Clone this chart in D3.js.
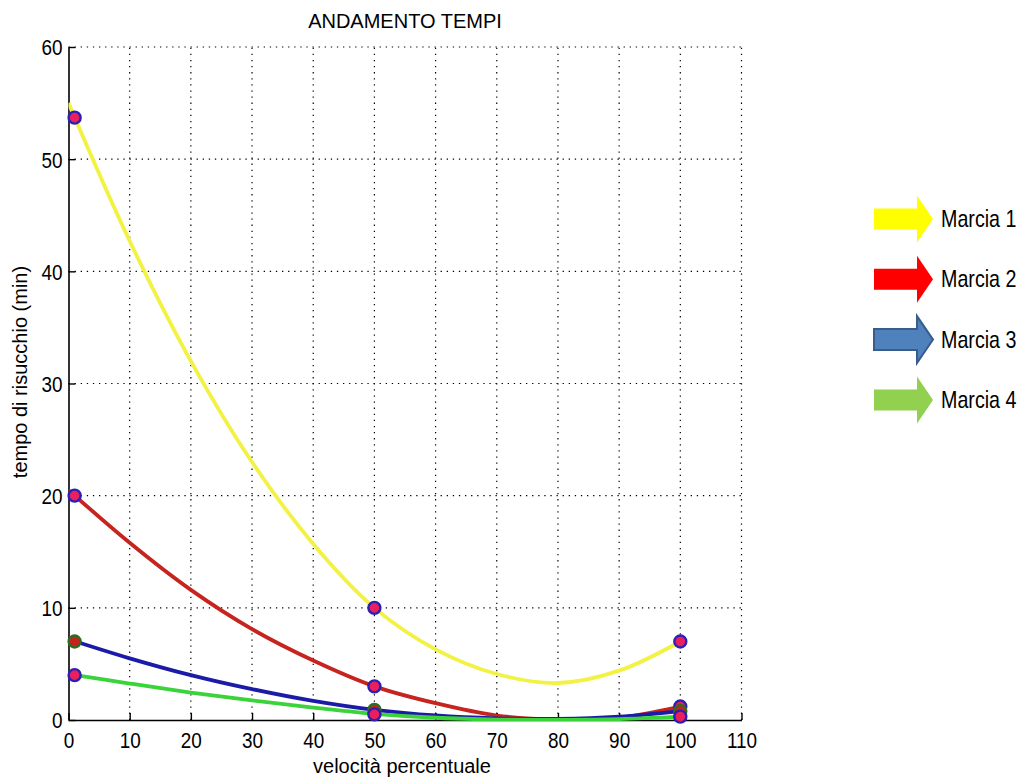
<!DOCTYPE html>
<html>
<head>
<meta charset="utf-8">
<script src="https://cdn.jsdelivr.net/npm/d3@7"></script>
<style>
	body { margin: 0; background: #fff; }
	svg { display: block; }
	.tick-label { font-family: "Liberation Sans", Arial, sans-serif; font-size: 22px; fill: #000; }
	.lbl { font-family: "Liberation Sans", Arial, sans-serif; font-size: 20px; fill: #000; }
	.legend-text { font-family: "Liberation Sans", Arial, sans-serif; font-size: 24px; fill: #000; }
</style>
</head>
<body>
<div id="chart"></div>
<script>
// axis ticks
var xTicks = [0, 10, 20, 30, 40, 50, 60, 70, 80, 90, 100, 110];
var yTicks = [0, 10, 20, 30, 40, 50, 60];

// measured points (velocità percentuale)
var pointX = [1, 50, 100];
var marcia1 = [53.7, 10, 7];
var marcia2 = [20, 3, 1.2];
var marcia3 = [7, 0.9, 0.8];
var marcia4 = [4, 0.5, 0.3];

// fitted curves, every 10%
var curveX = [0, 10, 20, 30, 40, 50, 60, 70, 80, 90, 100];
var curve1 = [55.0, 42.7, 32.0, 23.0, 15.7, 10.0, 6.3, 4.1, 3.3, 4.4, 7.0];
var curve2 = [20.5, 15.8, 11.6, 8.1, 5.3, 3.0, 1.5, 0.4, 0.05, 0.2, 1.2];
var curve3 = [7.2, 5.5, 4.0, 2.75, 1.7, 0.9, 0.4, 0.15, 0.1, 0.3, 0.8];
var curve4 = [4.1, 3.25, 2.45, 1.75, 1.1, 0.55, 0.2, 0.04, 0.02, 0.08, 0.3];

var legendNames = ['Marcia 1', 'Marcia 2', 'Marcia 3', 'Marcia 4'];

var series = [
	{ name: legendNames[0], curve: curve1, points: marcia1, line: '#f2f244', edge: '#2b1fb5', fill: '#e8205c', arrow: '#ffff00', arrowEdge: 'none' },
	{ name: legendNames[1], curve: curve2, points: marcia2, line: '#c6241f', edge: '#2b1fb5', fill: '#e8205c', arrow: '#ff0000', arrowEdge: 'none' },
	{ name: legendNames[2], curve: curve3, points: marcia3, line: '#1b1ba8', edge: '#2f6b22', fill: '#c4231f', arrow: '#4f81bd', arrowEdge: '#385d8a' },
	{ name: legendNames[3], curve: curve4, points: marcia4, line: '#3ad43a', edge: '#2b1fb5', fill: '#e8205c', arrow: '#92d050', arrowEdge: 'none' }
];

var width = 1021, height = 780;
var plot = { left: 68.5, right: 741.5, top: 47, bottom: 720 };

var svg = d3.select('#chart').append('svg')
	.attr('width', width)
	.attr('height', height);

var x = d3.scaleLinear().domain([0, 110]).range([plot.left, plot.right]);
var y = d3.scaleLinear().domain([0, 60]).range([plot.bottom, plot.top]);

// clip for the curves (a bit of room below 0 so lines on the axis stay visible)
svg.append('clipPath').attr('id', 'plot-clip')
	.append('rect')
	.attr('x', plot.left).attr('y', plot.top)
	.attr('width', plot.right - plot.left).attr('height', plot.bottom - plot.top + 1);

// dotted grid
var grid = svg.append('g').attr('stroke', '#000').attr('stroke-width', 1.2).attr('stroke-dasharray', '1.3,4.8');
grid.selectAll('line.gx').data(xTicks.slice(1)).enter().append('line')
	.attr('x1', function (d) { return x(d); }).attr('x2', function (d) { return x(d); })
	.attr('y1', plot.bottom).attr('y2', plot.top);
grid.selectAll('line.gy').data(yTicks.slice(1)).enter().append('line')
	.attr('y1', function (d) { return y(d); }).attr('y2', function (d) { return y(d); })
	.attr('x1', plot.left).attr('x2', plot.right);

// axes with inward ticks
var xAxis = svg.append('g')
	.attr('transform', 'translate(0,' + plot.bottom + ')')
	.call(d3.axisBottom(x).tickValues(xTicks).tickSizeInner(-7).tickSizeOuter(0).tickPadding(12));
var yAxis = svg.append('g')
	.attr('transform', 'translate(' + plot.left + ',0)')
	.call(d3.axisLeft(y).tickValues(yTicks).tickSizeInner(-7).tickSizeOuter(0).tickPadding(8));

[xAxis, yAxis].forEach(function (a) {
	a.attr('font-size', null).attr('font-family', null);
	a.select('.domain').attr('stroke', '#000').attr('stroke-width', 1.6);
	a.selectAll('.tick line').attr('stroke', '#000').attr('stroke-width', 1.4);
	a.selectAll('.tick text').attr('class', 'tick-label');
});
// MATLAB style narrow digits
xAxis.selectAll('.tick text').attr('dy', '0.72em').attr('transform', 'scale(0.86,1)');
yAxis.selectAll('.tick text').attr('dy', '0.36em').attr('x', -7).attr('transform', 'scale(0.86,1)');

// curves
var line = d3.line()
	.x(function (d) { return x(d[0]); })
	.y(function (d) { return y(Math.max(0, d[1])); })
	.curve(d3.curveCatmullRom.alpha(0.5));

var curves = svg.append('g').attr('clip-path', 'url(#plot-clip)');
series.forEach(function (s) {
	curves.append('path')
		.datum(curveX.map(function (v, i) { return [v, s.curve[i]]; }))
		.attr('d', line)
		.attr('fill', 'none')
		.attr('stroke', s.line)
		.attr('stroke-width', 3.8)
		.attr('stroke-linejoin', 'round');
});

// markers
var marks = svg.append('g');
series.forEach(function (s) {
	marks.selectAll(null)
		.data(pointX.map(function (v, i) { return [v, s.points[i]]; }))
		.enter().append('circle')
		.attr('cx', function (d) { return x(d[0]); })
		.attr('cy', function (d) { return y(d[1]); })
		.attr('r', 6)
		.attr('fill', s.fill)
		.attr('stroke', s.edge)
		.attr('stroke-width', 2.4);
});

// labels
svg.append('text').attr('class', 'lbl')
	.attr('x', 405).attr('y', 28)
	.attr('text-anchor', 'middle')
	.text('ANDAMENTO TEMPI');
svg.append('text').attr('class', 'lbl')
	.attr('x', 402).attr('y', 773)
	.attr('text-anchor', 'middle')
	.text('velocità percentuale');
svg.append('text').attr('class', 'lbl')
	.attr('transform', 'translate(27,372) rotate(-90)')
	.attr('text-anchor', 'middle')
	.text('tempo di risucchio (min)');

// legend made of block arrows
var arrowPath = function (x0, cy) {
	return 'M' + x0 + ',' + (cy - 10.5) +
		'H' + (x0 + 43) + 'V' + (cy - 23.5) +
		'L' + (x0 + 59) + ',' + cy +
		'L' + (x0 + 43) + ',' + (cy + 23.5) +
		'V' + (cy + 10.5) + 'H' + x0 + 'Z';
};
var legend = svg.append('g');
series.forEach(function (s, i) {
	var cy = 219 + i * 60.3;
	legend.append('path')
		.attr('d', arrowPath(874, cy))
		.attr('fill', s.arrow)
		.attr('stroke', s.arrowEdge)
		.attr('stroke-width', 2);
	legend.append('text').attr('class', 'legend-text')
		.attr('transform', 'translate(941,' + (cy + 8) + ') scale(0.82,1)')
		.text(s.name);
});
</script>
</body>
</html>
